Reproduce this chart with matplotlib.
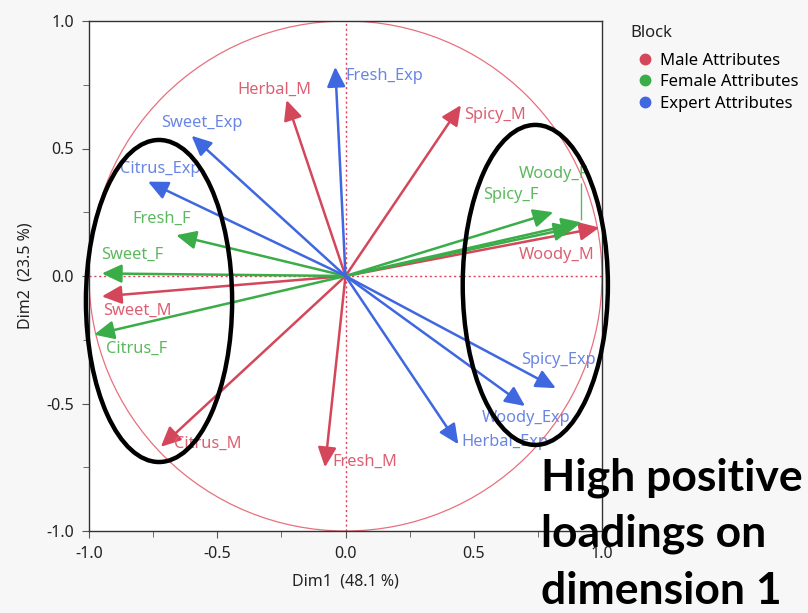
import matplotlib.pyplot as plt
from matplotlib.patches import Circle, Ellipse
from matplotlib.lines import Line2D

# loadings
male_names = ["Herbal_M", "Spicy_M", "Woody_M", "Sweet_M", "Citrus_M", "Fresh_M"]
male_x = [-0.23, 0.45, 0.99, -0.95, -0.72, -0.08]
male_y = [0.69, 0.67, 0.19, -0.08, -0.67, -0.75]

female_names = ["Fresh_F", "Sweet_F", "Citrus_F", "Spicy_F", "Woody_F", "Herbal_F"]
female_x = [-0.66, -0.95, -0.98, 0.81, 0.92, 0.89]
female_y = [0.16, 0.01, -0.23, 0.25, 0.21, 0.19]

expert_names = ["Fresh_Exp", "Sweet_Exp", "Citrus_Exp", "Spicy_Exp", "Woody_Exp", "Herbal_Exp"]
expert_x = [-0.04, -0.60, -0.77, 0.82, 0.70, 0.44]
expert_y = [0.82, 0.55, 0.37, -0.44, -0.51, -0.66]

block_names = ["Male Attributes", "Female Attributes", "Expert Attributes"]

# label offsets in pixels (left edge / vertical centre relative to arrow tip)
offsets = {
    "Herbal_M": (-49, 10), "Spicy_M": (3, -10), "Woody_M": (-81, -27),
    "Sweet_M": (1, -14), "Citrus_M": (13, 3), "Fresh_M": (7, 5),
    "Fresh_F": (-44, 16), "Sweet_F": (-1, 19), "Citrus_F": (12, -14),
    "Spicy_F": (-70, 17), "Woody_F": (-63, 48), "Herbal_F": None,
    "Fresh_Exp": (10, -9), "Sweet_Exp": (-30, 13), "Citrus_Exp": (-28, 13),
    "Spicy_Exp": (-35, 28), "Woody_Exp": (-43, -12), "Herbal_Exp": (3, 2),
}

arrow_cols = ["#d4475a", "#3aad48", "#3f67df"]
label_cols = ["#dc5f72", "#5cb85f", "#6a86e4"]

plt.rcParams["font.family"] = ["Noto Sans", "DejaVu Sans"]

fig = plt.figure(figsize=(8.08, 6.13), dpi=100, facecolor="#f7f7f7")
ax = fig.add_axes([89 / 808, 1 - 531 / 613, 513 / 808, 510 / 613])
ax.set_facecolor("white")
ax.set_xlim(-1, 1)
ax.set_ylim(-1, 1)

ax.add_patch(Circle((0, 0), 1, fill=False, ec="#e8707e", lw=0.9))
ax.axhline(0, color="#e0405a", ls=(0, (1.5, 2)), lw=1)
ax.axvline(0, color="#e0405a", ls=(0, (1.5, 2)), lw=1)

groups = [(male_names, male_x, male_y), (female_names, female_x, female_y),
          (expert_names, expert_x, expert_y)]
px = 0.72  # pixels -> points
for gi, (names, xs, ys) in enumerate(groups):
    for n, x, y in zip(names, xs, ys):
        ax.annotate("", xy=(x, y), xytext=(0, 0),
                    arrowprops=dict(arrowstyle="-|>,head_length=0.75,head_width=0.35",
                                    lw=1.8, color=arrow_cols[gi], shrinkA=0, shrinkB=0,
                                    mutation_scale=16))
        off = offsets[n]
        if off is None:
            continue
        ax.annotate(n, xy=(x, y), xytext=(off[0] * px, off[1] * px),
                    textcoords="offset points", ha="left", va="center",
                    fontsize=11.8, color=label_cols[gi])
        if n == "Woody_F":
            ax.annotate("", xy=(x, y + 0.01), xytext=(0, 36 * px),
                        textcoords="offset points",
                        arrowprops=dict(arrowstyle="-", color=label_cols[gi], lw=1,
                                        shrinkA=0, shrinkB=0))

ticks = [-1.0, -0.5, 0.0, 0.5, 1.0]
ax.set_xticks(ticks)
ax.set_yticks(ticks)
ax.set_xticklabels([f"{t:.1f}" for t in ticks])
ax.set_yticklabels([f"{t:.1f}" for t in ticks])
ax.set_xticks([-0.75, -0.25, 0.25, 0.75], minor=True)
ax.set_yticks([-0.75, -0.25, 0.25, 0.75], minor=True)
ax.tick_params(which="both", direction="out", color="#555555", labelsize=11.5,
               labelcolor="#222222")
ax.tick_params(which="major", length=5)
ax.tick_params(which="minor", length=4)
ax.tick_params(axis="x", pad=6)
ax.tick_params(axis="y", pad=6)
for s in ax.spines.values():
    s.set_color("#333333")
    s.set_linewidth(1)
ax.set_xlabel("Dim1  (48.1 %)", fontsize=11.5, color="#222222", labelpad=8)
ax.set_ylabel("Dim2  (23.5 %)", fontsize=11.5, color="#222222", labelpad=9)

# highlight ellipses
ax.add_patch(Ellipse((-0.727, -0.098), 0.57, 1.263, fill=False, ec="black",
                     lw=3.2, clip_on=False, zorder=10))
ax.add_patch(Ellipse((0.74, -0.035), 0.566, 1.255, fill=False, ec="black",
                     lw=3.2, clip_on=False, zorder=10))

fig.text(630 / 808, 1 - 33 / 613, "Block", fontsize=12, color="#222222",
         ha="left", va="center")
handles = [Line2D([], [], ls="", marker="o", ms=7.5, color=c) for c in arrow_cols]
leg = fig.legend(handles, block_names, loc="upper left",
                 bbox_to_anchor=(623 / 808, 1 - 41 / 613), frameon=False,
                 fontsize=12, handletextpad=0.3, labelspacing=0.33,
                 handlelength=1.2, borderpad=0.2)

fig.text(541 / 808, 1 - 534 / 613, "High positive\nloadings on\ndimension 1",
         fontsize=32, fontweight="bold", family="Lato", va="center", ha="left",
         linespacing=1.5, color="black", zorder=20)

fig.savefig("out.png", dpi=100, facecolor=fig.get_facecolor())
